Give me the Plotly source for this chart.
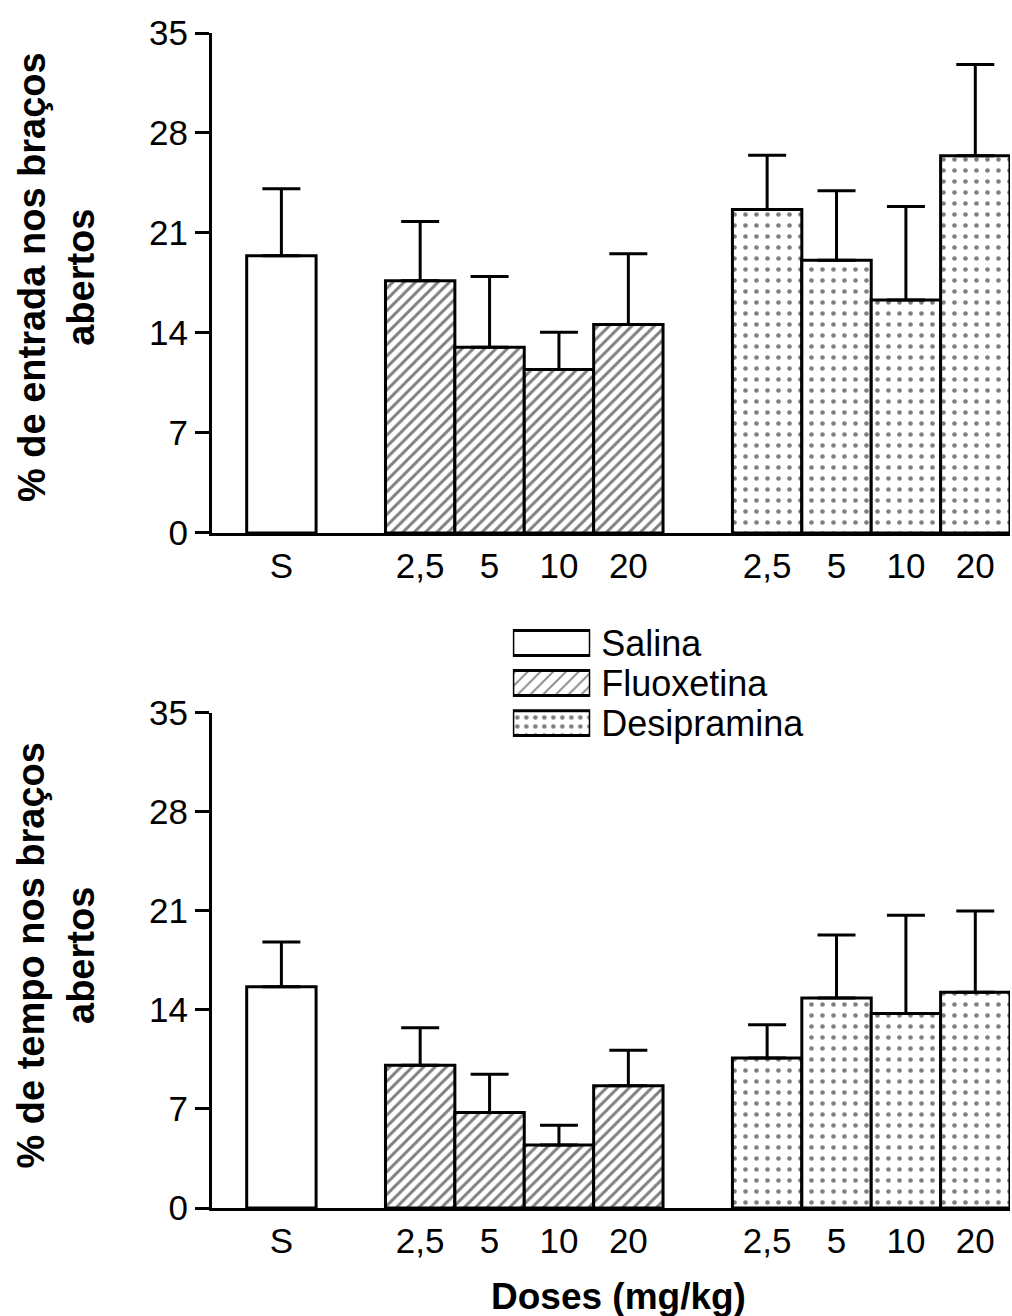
import plotly.graph_objects as go

# ---------------- data ----------------
groups = ["Salina", "Fluoxetina", "Desipramina"]
salina_labels = ["S"]
drug_doses = ["2,5", "5", "10", "20"]

# top panel: % de entrada nos braços abertos (mean, upper SEM)
entrada_sal = [19.4]
entrada_sal_err = [4.7]
entrada_flu = [17.65, 13.0, 11.45, 14.6]
entrada_flu_err = [4.15, 4.95, 2.6, 4.95]
entrada_des = [22.65, 19.1, 16.3, 26.4]
entrada_des_err = [3.8, 4.85, 6.55, 6.4]

# bottom panel: % de tempo nos braços abertos
tempo_sal = [15.65]
tempo_sal_err = [3.15]
tempo_flu = [10.1, 6.75, 4.45, 8.65]
tempo_flu_err = [2.65, 2.7, 1.4, 2.5]
tempo_des = [10.6, 14.85, 13.75, 15.25]
tempo_des_err = [2.35, 4.45, 6.95, 5.75]

y_ticks = [0, 7, 14, 21, 28, 35]

# ---------------- positions derived from group structure ----------------
group_labels = [salina_labels, drug_doses, drug_doses]
positions = []
start = 1
for labs in group_labels:
    positions.append([start + i for i in range(len(labs))])
    start = start + len(labs) + 1
tick_vals = [p for grp in positions for p in grp]
tick_text = [l for labs in group_labels for l in labs]
x_max = positions[-1][-1] + 0.5

patterns = {"Salina": "", "Fluoxetina": "/", "Desipramina": "."}
pat_size = {"Salina": 8, "Fluoxetina": 8, "Desipramina": 11}
pat_sol = {"Salina": 0.2, "Fluoxetina": 0.36, "Desipramina": 0.14}

FONT = "Liberation Sans, Arial, sans-serif"

fig = go.Figure()


def add_panel(vals_list, errs_list, xref, yref):
    for g, pos, vals, errs in zip(groups, positions, vals_list, errs_list):
        fig.add_trace(go.Bar(
            x=pos, y=vals, width=1,
            xaxis=xref, yaxis=yref,
            marker=dict(
                color="white",
                line=dict(color="black", width=3),
                pattern=dict(shape=patterns[g], fgcolor="black", bgcolor="white",
                             size=pat_size[g], solidity=pat_sol[g]),
            ),
            error_y=dict(type="data", symmetric=False, array=errs,
                         arrayminus=[0] * len(errs), color="black",
                         thickness=3, width=19),
            showlegend=False, hoverinfo="skip",
        ))


add_panel([entrada_sal, entrada_flu, entrada_des],
          [entrada_sal_err, entrada_flu_err, entrada_des_err], "x", "y")
add_panel([tempo_sal, tempo_flu, tempo_des],
          [tempo_sal_err, tempo_flu_err, tempo_des_err], "x2", "y2")

# legend drawn as a tiny bar chart
fig.add_trace(go.Bar(
    x=[1, 1, 1], y=groups, orientation="h", width=0.62,
    xaxis="x3", yaxis="y3",
    marker=dict(
        color="white",
        line=dict(color="black", width=3),
        pattern=dict(shape=[patterns[g] for g in groups], fgcolor="black",
                     bgcolor="white", size=9, solidity=0.2),
    ),
    showlegend=False, hoverinfo="skip",
))

xaxis_common = dict(range=[0, x_max], showline=True, linewidth=3, linecolor="black",
                    tickvals=tick_vals, ticktext=tick_text, ticks="",
                    showgrid=False, zeroline=False, ticklabelstandoff=0,
                    tickfont=dict(family=FONT, size=35, color="black"))
yaxis_common = dict(range=[0, 35], tickvals=y_ticks, ticks="outside", ticklen=14,
                    tickwidth=3, tickcolor="black", showline=True, linewidth=3,
                    linecolor="black", showgrid=False, zeroline=False,
                    tickfont=dict(family=FONT, size=35, color="black"))

TOP = [0.5745, 1.0]
BOT = [0.0, 0.4213]

fig.update_layout(
    width=1012, height=1316,
    margin=dict(l=212, r=2, t=33, b=108),
    paper_bgcolor="white", plot_bgcolor="rgba(0,0,0,0)",
    barmode="overlay", showlegend=False,
    xaxis=dict(domain=[0, 1], anchor="y", **xaxis_common),
    yaxis=dict(domain=TOP, anchor="x", **yaxis_common),
    xaxis2=dict(domain=[0, 1], anchor="y2", **xaxis_common),
    yaxis2=dict(domain=BOT, anchor="x2", **yaxis_common),
    xaxis3=dict(domain=[0.377, 0.474], anchor="y3", range=[0, 1], visible=False),
    yaxis3=dict(domain=[0.3957, 0.4979], anchor="x3", side="right",
                autorange="reversed", showline=False, showgrid=False,
                zeroline=False, ticks="", ticklabelstandoff=10,
                tickmode="array", tickvals=groups, ticktext=groups,
                tickfont=dict(family=FONT, size=36, color="black")),
)

title_font = dict(family=FONT, size=38, color="black")
fig.add_annotation(text="<b>% de entrada nos braços<br>abertos</b>",
                   xref="paper", yref="paper", x=-0.1955, y=sum(TOP) / 2 + 0.005,
                   xanchor="center", yanchor="middle", textangle=-90,
                   showarrow=False, font=title_font)
fig.add_annotation(text="<b>% de tempo nos braços<br>abertos</b>",
                   xref="paper", yref="paper", x=-0.1955, y=sum(BOT) / 2 + 0.005,
                   xanchor="center", yanchor="middle", textangle=-90,
                   showarrow=False, font=title_font)
fig.add_annotation(text="<b>Doses (mg/kg)</b>",
                   xref="paper", yref="paper", x=0.51, y=-0.075,
                   xanchor="center", yanchor="middle",
                   showarrow=False, font=dict(family=FONT, size=37, color="black"))

fig.write_html("out.html")
